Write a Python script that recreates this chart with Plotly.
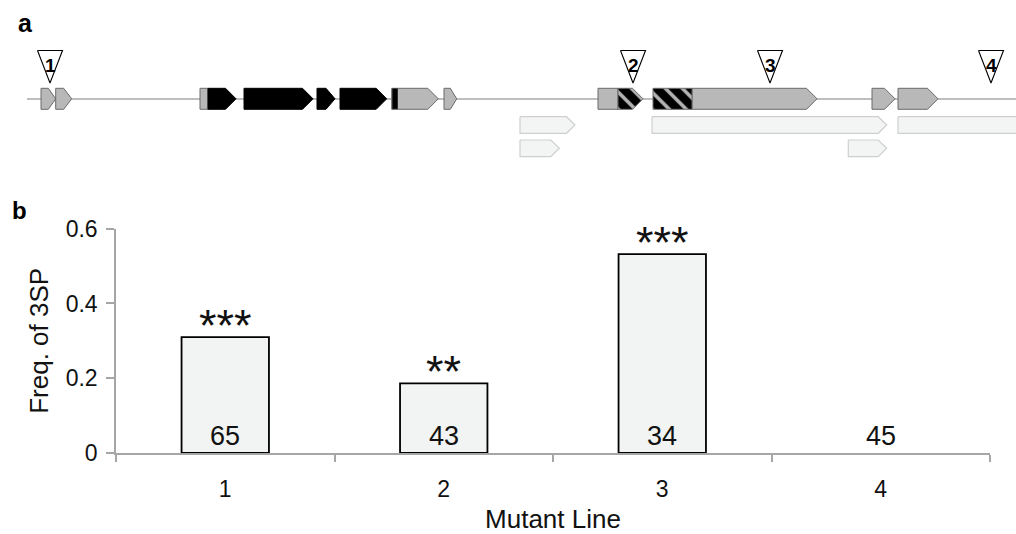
import plotly.graph_objects as go

W, H = 1016, 534

# ---------------- Panel a data (positions along the locus, drawing units) ----------------
backbone = [27, 1016]
gene_start = [41, 55.7, 200, 208, 244, 317, 340, 391.7, 444, 598, 618, 653, 692, 872, 898]
gene_end = [55.7, 71.7, 208, 236, 313, 335, 386.7, 438.3, 456.7, 618, 643, 692, 817, 895, 938]
gene_kind = ["gray", "gray", "gray", "black", "black", "black", "black", "gray", "gray",
             "gray", "hatch", "hatch", "gray", "gray", "gray"]
gene_arrow = [True, True, False, True, True, True, True, True, True,
              False, True, False, True, True, True]
stripe_start = [392.5]
stripe_end = [397.5]
tx_start = [520, 652, 898, 520, 848.3]
tx_end = [575, 886.7, 1030, 559.3, 886.7]
tx_row = [0, 0, 0, 1, 1]
tx_arrow = [True, True, False, True, True]
insert_sites = [50, 633, 770, 991]
insert_labels = ["1", "2", "3", "4"]

# ---------------- Panel b data ----------------
lines = ["1", "2", "3", "4"]
freq = [0.31, 0.186, 0.532, 0.0]
counts = ["65", "43", "34", "45"]
signif = ["***", "**", "***", ""]
yticks = [0, 0.2, 0.4, 0.6]
yticklabels = ["0", "0.2", "0.4", "0.6"]

FONT = "Liberation Sans, Arial, sans-serif"
AX = "#a6a6a6"


def arrow_poly(s, e, yc, h, tip, tipmax=10.5):
    top, bot = yc - h / 2, yc + h / 2
    if tip:
        t = min(tipmax, (e - s) * 0.5)
        return [s, e - t, e, e - t, s, s], [top, top, yc, bot, bot, top]
    return [s, e, e, s, s], [top, top, bot, bot, top]


def polys(xs_list, ys_list):
    X, Y = [], []
    for xs, ys in zip(xs_list, ys_list):
        X += xs + [None]
        Y += ys + [None]
    return X, Y


fig = go.Figure()
A = dict(xaxis="x2", yaxis="y2", hoverinfo="skip", showlegend=False)

# backbone
fig.add_trace(go.Scatter(x=backbone, y=[99, 99], mode="lines",
                         line=dict(color="#7f7f7f", width=1.2), **A))

# transcripts (light)
row_y = [125, 148.3]
px, py = [], []
for s, e, r, a in zip(tx_start, tx_end, tx_row, tx_arrow):
    xs, ys = arrow_poly(s, e, row_y[r], 16.6, a, tipmax=8.5)
    px.append(xs); py.append(ys)
X, Y = polys(px, py)
fig.add_trace(go.Scatter(x=X, y=Y, mode="lines", fill="toself", fillcolor="#f3f4f4",
                         line=dict(color="#cfcfcf", width=1.2), **A))

# genes
styles = {
    "gray": dict(fillcolor="#b8b8b8", line=dict(color="#6b6b6b", width=1)),
    "black": dict(fillcolor="#000000", line=dict(color="#000000", width=1)),
    "hatch": dict(fillcolor="#000000", line=dict(color="#6b6b6b", width=1),
                  fillpattern=dict(shape="\\", bgcolor="#000000", fgcolor="#b3b3b3",
                                   size=12, solidity=0.3, fillmode="replace")),
}
for kind in ["gray", "black", "hatch"]:
    px, py = [], []
    for s, e, k, a in zip(gene_start, gene_end, gene_kind, gene_arrow):
        if k == kind:
            xs, ys = arrow_poly(s, e, 98.8, 21, a)
            px.append(xs); py.append(ys)
    X, Y = polys(px, py)
    fig.add_trace(go.Scatter(x=X, y=Y, mode="lines", fill="toself", **styles[kind], **A))

# black stripe inside gene
px, py = [], []
for s, e in zip(stripe_start, stripe_end):
    xs, ys = arrow_poly(s, e, 98.8, 20, False)
    px.append(xs); py.append(ys)
X, Y = polys(px, py)
fig.add_trace(go.Scatter(x=X, y=Y, mode="lines", fill="toself", fillcolor="#000000",
                         line=dict(color="#000000", width=0.5), **A))

# insertion triangles
px, py = [], []
for xs in insert_sites:
    px.append([xs - 12.5, xs + 12.5, xs, xs - 12.5])
    py.append([50.5, 50.5, 83, 50.5])
X, Y = polys(px, py)
fig.add_trace(go.Scatter(x=X, y=Y, mode="lines", fill="toself", fillcolor="#ffffff",
                         line=dict(color="#000000", width=1.1), **A))

# ---------------- Panel b bars ----------------
fig.add_trace(go.Bar(
    x=lines, y=freq, width=0.4,
    marker=dict(color="#f2f3f3",
                line=dict(color="#000000", width=[1.8 if v > 0 else 0 for v in freq])),
    showlegend=False, hoverinfo="skip"))

annotations = []
for xs, lab in zip(insert_sites, insert_labels):
    annotations.append(dict(x=xs, y=65, xref="x2", yref="y2", text="<b>%s</b>" % lab,
                            showarrow=False, font=dict(family=FONT, size=19, color="#000")))
for i, (n, s, v) in enumerate(zip(counts, signif, freq)):
    annotations.append(dict(x=i, y=0, xref="x", yref="y", text=n, showarrow=False,
                            yanchor="bottom", yshift=0,
                            font=dict(family=FONT, size=27, color="#111")))
    if s:
        annotations.append(dict(x=i, y=v, xref="x", yref="y",
                                text=s, showarrow=False,
                                yanchor="bottom", yshift=-16,
                                font=dict(family=FONT, size=45, color="#111")))
annotations.append(dict(x=25 / W, y=1 - 23 / H, xref="paper", yref="paper", text="<b>a</b>",
                        xanchor="center", yanchor="middle",
                        showarrow=False, font=dict(family=FONT, size=25, color="#000")))
annotations.append(dict(x=19 / W, y=1 - 210.5 / H, xref="paper", yref="paper", text="<b>b</b>",
                        xanchor="center", yanchor="middle",
                        showarrow=False, font=dict(family=FONT, size=24, color="#000")))

fig.update_layout(
    width=W, height=H, template="none",
    margin=dict(l=0, r=0, t=0, b=0),
    paper_bgcolor="white", plot_bgcolor="rgba(0,0,0,0)",
    bargap=0.6,
    font=dict(family=FONT, color="#111"),
    annotations=annotations,
    xaxis=dict(domain=[116 / W, 990 / W], type="category", range=[-0.5, 3.5],
               showgrid=False, zeroline=False, showline=True, linecolor=AX, linewidth=1.5,
               ticks="outside", tickson="boundaries", ticklen=7, tickwidth=1.5, tickcolor=AX,
               tickfont=dict(size=23, family=FONT, color="#111"), ticklabelstandoff=15,
               title=dict(text="Mutant Line", font=dict(size=26, family=FONT, color="#111"),
                          standoff=13),
               automargin=False, fixedrange=True),
    yaxis=dict(domain=[1 - 453 / H, 1 - 228.7 / H], range=[0, 0.6],
               showgrid=False, zeroline=False, showline=True, linecolor=AX, linewidth=1.5,
               ticks="outside", ticklen=8, tickwidth=1.5, tickcolor=AX,
               tickvals=yticks, ticktext=yticklabels,
               tickfont=dict(size=23, family=FONT, color="#111"), ticklabelstandoff=4,
               title=dict(text="Freq. of 3SP", font=dict(size=26, family=FONT, color="#111"),
                          standoff=10),
               automargin=False, fixedrange=True),
    xaxis2=dict(domain=[0, 1], range=[0, W], visible=False, fixedrange=True),
    yaxis2=dict(domain=[1 - 170 / H, 1], range=[170, 0], visible=False, fixedrange=True),
)

fig.write_html("out.html", config={"displayModeBar": False},
               post_script="document.body.style.margin='0';")
